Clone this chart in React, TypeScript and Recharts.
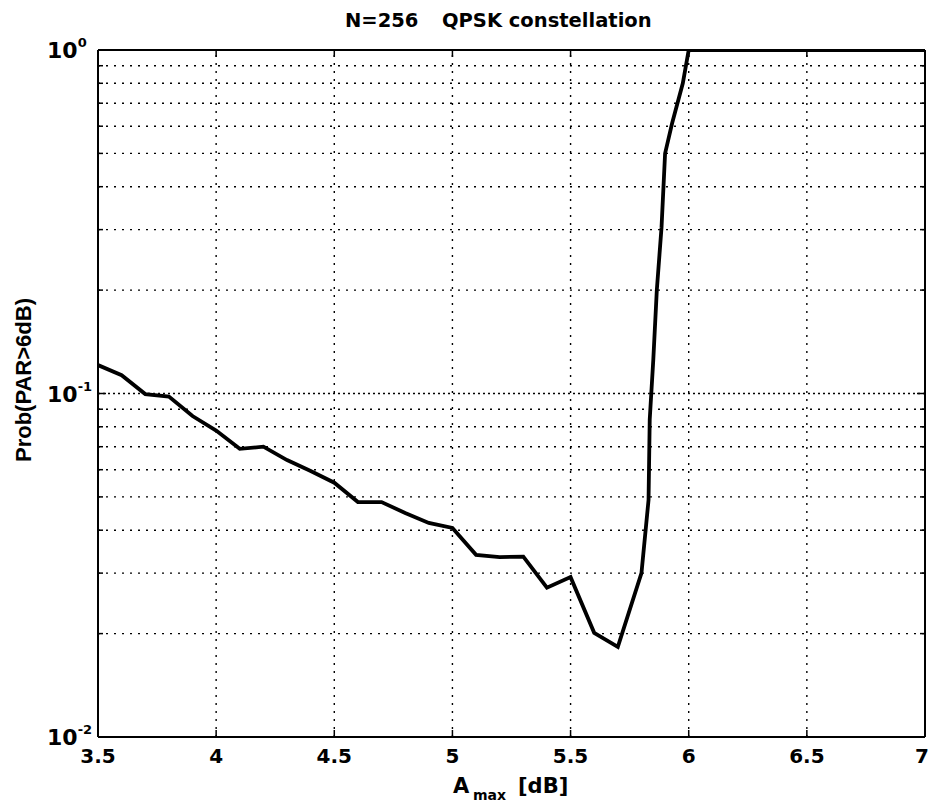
import { LineChart, Line, XAxis, YAxis, ReferenceLine } from 'recharts';

// A_max [dB] sample points and the measured probability Prob(PAR > 6dB)
const ampDb = [
    3.5, 3.6, 3.7, 3.8, 3.9, 4.0, 4.1, 4.2, 4.3, 4.4, 4.5, 4.6, 4.7, 4.8, 4.9,
    5.0, 5.1, 5.2, 5.3, 5.4, 5.5, 5.6, 5.7, 5.8, 5.83, 5.835, 5.85, 5.865, 5.885,
    5.9, 5.93, 5.975, 6.0, 7.0
];
const probPar = [
    0.121, 0.113, 0.0996, 0.098, 0.086, 0.078, 0.069, 0.070, 0.064, 0.0595, 0.055,
    0.0483, 0.0483, 0.0449, 0.042, 0.0406, 0.0339, 0.0334, 0.0335, 0.0272, 0.0292,
    0.0201, 0.0183, 0.030, 0.049, 0.084, 0.125, 0.2, 0.305, 0.5, 0.613, 0.8, 1.0, 1.0
];

const xTicks = [3.5, 4, 4.5, 5, 5.5, 6, 6.5, 7];
const xGrid = [4, 4.5, 5, 5.5, 6, 6.5];
const yTicks = [
    0.01, 0.02, 0.03, 0.04, 0.05, 0.06, 0.07, 0.08, 0.09,
    0.1, 0.2, 0.3, 0.4, 0.5, 0.6, 0.7, 0.8, 0.9, 1
];
const yGrid = yTicks.filter(v => v > 0.01 && v < 1);

const chartData = ampDb.map((x, i) => ({ x, p: probPar[i] }));

// the scan is a bit wide, DejaVu bold gets closer to it than Arial
const WIDE = '"DejaVu Sans", Verdana, sans-serif';
const ARIAL = '"Liberation Sans", Arial, sans-serif';

const decadeOf = (v: number) => {
    const e = Math.round(Math.log10(v));
    return { e, major: Math.abs(v - Math.pow(10, e)) < 1e-9 };
};

const BottomTick = ({ x, y, payload, index }: any) => {
    const first = index === 0;
    const last = index === xTicks.length - 1;
    return (
        <g>
            {!first && !last && <line x1={x} x2={x} y1={y} y2={y - 7} stroke="#000" strokeWidth={1.5} />}
            <text
                x={last ? x + 4 : x}
                y={y + 26}
                textAnchor={last ? 'end' : 'middle'}
                fontFamily={WIDE}
                fontWeight="bold"
                fontSize={20}
                fill="#000"
            >
                {String(payload.value)}
            </text>
        </g>
    );
};

const TopTick = ({ x, y, index }: any) => {
    const edge = index === 0 || index === xTicks.length - 1;
    if (edge) return <g />;
    return <line x1={x} x2={x} y1={y} y2={y + 7} stroke="#000" strokeWidth={1.5} />;
};

const LeftTick = ({ x, y, payload }: any) => {
    const { e, major } = decadeOf(payload.value);
    return (
        <g>
            <line x1={x} x2={x + (major ? 8 : 5)} y1={y} y2={y} stroke="#000" strokeWidth={1.5} />
            {major && (
                <text x={47} y={y + 8} fontFamily={WIDE} fontWeight="bold" fontSize={22} fill="#000">
                    10
                    <tspan dy={-11} fontSize={13}>{String(e)}</tspan>
                </text>
            )}
        </g>
    );
};

const RightTick = ({ x, y, payload }: any) => {
    const { major } = decadeOf(payload.value);
    return <line x1={x} x2={x - (major ? 8 : 5)} y1={y} y2={y} stroke="#000" strokeWidth={1.5} />;
};

export default function App() {
    const axisLine = { stroke: '#000', strokeWidth: 2 };
    return (
        <div style={{ position: 'absolute', left: 0, top: 0, width: 930, height: 804, background: '#fff' }}>
            <LineChart width={930} height={804} data={chartData} margin={{ top: 48, right: 3, bottom: 7, left: 38 }}>
                <XAxis
                    xAxisId="b"
                    dataKey="x"
                    type="number"
                    domain={[3.5, 7]}
                    ticks={xTicks}
                    interval={0}
                    height={60}
                    tickSize={0}
                    tickMargin={0}
                    tickLine={false}
                    axisLine={axisLine}
                    tick={(p: any) => <BottomTick {...p} />}
                    allowDataOverflow
                />
                <XAxis
                    xAxisId="t"
                    orientation="top"
                    dataKey="x"
                    type="number"
                    domain={[3.5, 7]}
                    ticks={xTicks}
                    interval={0}
                    height={2}
                    tickSize={0}
                    tickMargin={0}
                    tickLine={false}
                    axisLine={axisLine}
                    tick={(p: any) => <TopTick {...p} />}
                    allowDataOverflow
                />
                <YAxis
                    yAxisId="l"
                    scale="log"
                    domain={[0.01, 1]}
                    ticks={yTicks}
                    interval={0}
                    width={60}
                    tickSize={0}
                    tickMargin={0}
                    tickLine={false}
                    axisLine={axisLine}
                    tick={(p: any) => <LeftTick {...p} />}
                    allowDataOverflow
                />
                <YAxis
                    yAxisId="r"
                    orientation="right"
                    scale="log"
                    domain={[0.01, 1]}
                    ticks={yTicks}
                    interval={0}
                    width={2}
                    tickSize={0}
                    tickMargin={0}
                    tickLine={false}
                    axisLine={axisLine}
                    tick={(p: any) => <RightTick {...p} />}
                    allowDataOverflow
                />

                {/* dotted grid, MATLAB style */}
                {yGrid.map(v => (
                    <ReferenceLine
                        key={'h' + v}
                        xAxisId="b"
                        yAxisId="l"
                        y={v}
                        stroke="#000"
                        strokeWidth={1.4}
                        strokeDasharray={v === 0.1 ? '2 3' : '2 6'}
                    />
                ))}
                {xGrid.map(v => (
                    <ReferenceLine
                        key={'v' + v}
                        xAxisId="b"
                        yAxisId="l"
                        x={v}
                        stroke="#000"
                        strokeWidth={1.4}
                        strokeDasharray="2 6"
                    />
                ))}

                <Line
                    xAxisId="b"
                    yAxisId="l"
                    type="linear"
                    dataKey="p"
                    stroke="#000"
                    strokeWidth={3.8}
                    dot={false}
                    activeDot={false}
                    isAnimationActive={false}
                />
            </LineChart>

            <svg
                width={930}
                height={804}
                style={{ position: 'absolute', left: 0, top: 0, pointerEvents: 'none' }}
            >
                <text y={27} fontFamily={WIDE} fontWeight="bold" fontSize={19.5} fill="#000">
                    <tspan x={345}>N=256</tspan>
                    <tspan x={442}>QPSK constellation</tspan>
                </text>
                <text
                    transform="translate(31,380) rotate(-90)"
                    textAnchor="middle"
                    fontFamily={ARIAL}
                    fontWeight="bold"
                    fontSize={22}
                    fill="#000"
                >
                    Prob(PAR&gt;6dB)
                </text>
                <text x={453} y={793} fontFamily={WIDE} fontWeight="bold" fontSize={21} fill="#000">A</text>
                <text x={473} y={800} fontFamily={WIDE} fontWeight="bold" fontSize={14} fill="#000">max</text>
                <text x={518} y={793} fontFamily={WIDE} fontWeight="bold" fontSize={21} fill="#000">[dB]</text>
            </svg>
        </div>
    );
}
